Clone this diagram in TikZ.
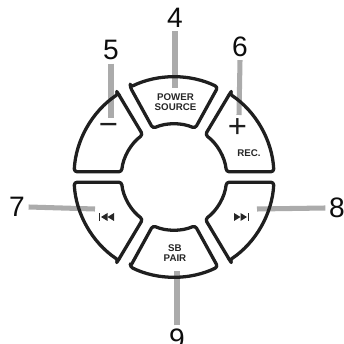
\documentclass[tikz,border=0pt]{standalone}
\usepackage{fontspec}
\setmainfont{Liberation Sans}
\usetikzlibrary{positioning}

\begin{document}
\begin{tikzpicture}[
    x=0.03cm, y=0.03cm,
    btn/.style={draw=black!88, line width=2.8pt, rounded corners=2.5pt, line join=round},
    leader/.style={draw=black!33, line width=4.3pt},
    num/.style={font=\fontsize{24}{24}\selectfont, inner sep=3pt, text=black!95},
    btntext/.style={font=\fontsize{8.3}{8.6}\selectfont\bfseries, align=center, inner sep=0pt, text=black!85},
    sign/.style={font=\fontsize{28}{28}\selectfont, inner sep=0pt, text=black!88},
    icon/.style={fill=black!85}
  ]
  \useasboundingbox (0,0) rectangle (344,343);

  % leaders under the buttons
  \node[num] (N4) at (175,325) {4};
  \node[num] (N5) at (111,293) {5};
  \node[num] (N6) at (240,296.5) {6};
  \node[num] (N7) at (17,136) {7};
  \node[num] (N8) at (337,135) {8};
  \node[num] (N9) at (177,4) {9};
  \coordinate (E4) at (175,255);
  \coordinate (E5) at (111,225);
  \coordinate (E6) at (239,228);
  \coordinate (E7) at (95,134);
  \coordinate (E8) at (257,134);
  \coordinate (E9) at (177,72);
  \draw[leader] (N4.south) -- (E4);
  \draw[leader] (N5.south) -- (E5);
  \draw[leader] (N6.south) -- (E6);
  \draw[leader] (N7.east) -- (E7);
  \draw[leader] (N8.west) -- (E8);
  \draw[leader] (N9.north) -- (E9);

  % buttons
  \begin{scope}[shift={(174,166)}]
    \draw[btn] (116:100) -- (113.5:53)
      arc[start angle=113.5, end angle=66.5, radius=53]
      -- (64:100)
      arc[start angle=64, end angle=116, radius=100] -- cycle;
    \draw[btn] (123.8:100.5) -- (126.5:52.5)
      arc[start angle=126.5, end angle=174, radius=53]
      -- (177:100)
      arc[start angle=177, end angle=123.8, radius=100] -- cycle;
    \draw[btn] (56.2:100.5) -- (53.5:52.5)
      arc[start angle=53.5, end angle=6, radius=53]
      -- (3:100)
      arc[start angle=3, end angle=56.2, radius=100] -- cycle;
    \draw[btn] (-123.8:100.5) -- (-126.5:52.5)
      arc[start angle=-126.5, end angle=-174, radius=53]
      -- (-177:100)
      arc[start angle=-177, end angle=-123.8, radius=100] -- cycle;
    \draw[btn] (-56.2:100.5) -- (-53.5:52.5)
      arc[start angle=-53.5, end angle=-6, radius=53]
      -- (-3:100)
      arc[start angle=-3, end angle=-56.2, radius=100] -- cycle;
    \draw[btn] (-116:100) -- (-113.5:53)
      arc[start angle=-113.5, end angle=-66.5, radius=53]
      -- (-64:100)
      arc[start angle=-64, end angle=-116, radius=100] -- cycle;
  \end{scope}

  % button captions
  \node[btntext] (power) at (175.5,241) {POWER\\SOURCE};
  \node[btntext] (rec) at (249,190) {REC.};
  \node[btntext] (pair) at (175,89.5) {SB\\PAIR};
  \node[sign] (minus) at (108.5,214) {−};
  \node[sign] (plus) at (237.5,215) {+};

  % skip icons
  \fill[icon] (99,122) rectangle (100.4,130);
  \fill[icon] (101,126) -- (107.5,130) -- (107.5,122) -- cycle;
  \fill[icon] (107.5,126) -- (114,130) -- (114,122) -- cycle;
  \fill[icon] (249,122) rectangle (247.6,130);
  \fill[icon] (247,126) -- (240.5,130) -- (240.5,122) -- cycle;
  \fill[icon] (240.5,126) -- (234,130) -- (234,122) -- cycle;
\end{tikzpicture}
\end{document}
